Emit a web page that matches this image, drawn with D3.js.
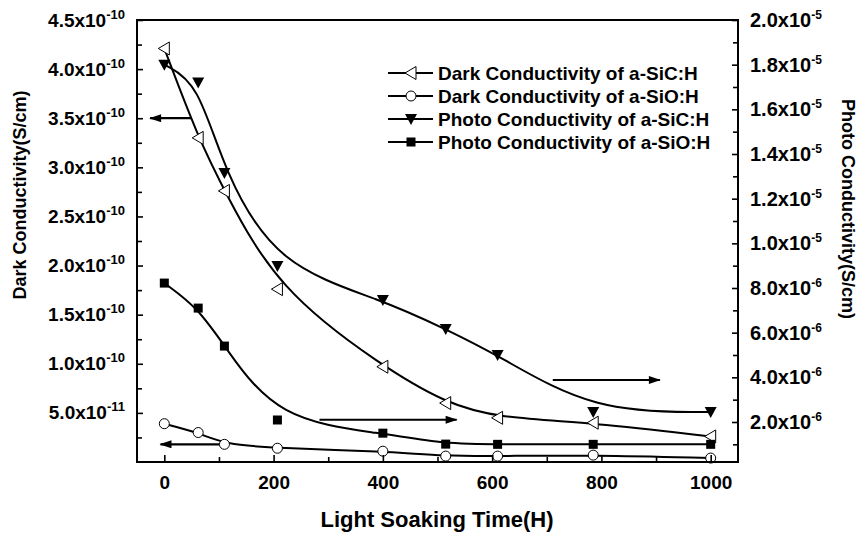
<!DOCTYPE html>
<html>
<head>
<meta charset="utf-8">
<script src="https://cdn.jsdelivr.net/npm/d3@7"></script>
<style>
  body { margin: 0; background: #fff; }
  svg { font-family: "Liberation Sans", Arial, sans-serif; font-weight: bold; }
</style>
</head>
<body>
<div id="viz"></div>
<script>
// light soaking time (H)
const times = [0, 62, 110, 207, 400, 515, 610, 785, 1000];

// left axis series (S/cm)
const darkSiC = [4.21e-10, 3.30e-10, 2.76e-10, 1.76e-10, 0.97e-10, 0.60e-10, 0.45e-10, 0.40e-10, 0.26e-10];
const darkSiO = [0.39e-10, 0.30e-10, 0.18e-10, 0.14e-10, 0.11e-10, 0.06e-10, 0.06e-10, 0.07e-10, 0.04e-10];

// right axis series (S/cm)
const photoSiC = [1.80e-5, 1.72e-5, 1.315e-5, 8.98e-6, 7.46e-6, 6.16e-6, 5.0e-6, 2.45e-6, 2.45e-6];
const photoSiO = [8.22e-6, 7.1e-6, 5.4e-6, 2.09e-6, 1.5e-6, 1.01e-6, 1.0e-6, 1.0e-6, 1.0e-6];

const legendLabels = [
    "Dark Conductivity of a-SiC:H",
    "Dark Conductivity of a-SiO:H",
    "Photo Conductivity of a-SiC:H",
    "Photo Conductivity of a-SiO:H"
];

// tick values
const xTicks = [0, 200, 400, 600, 800, 1000];
const xMinor = [100, 300, 500, 700, 900];
const leftTicks = [5e-11, 1e-10, 1.5e-10, 2e-10, 2.5e-10, 3e-10, 3.5e-10, 4e-10, 4.5e-10];
const leftMinor = [2.5e-11, 7.5e-11, 1.25e-10, 1.75e-10, 2.25e-10, 2.75e-10, 3.25e-10, 3.75e-10, 4.25e-10];
const rightTicks = [2e-6, 4e-6, 6e-6, 8e-6, 1e-5, 1.2e-5, 1.4e-5, 1.6e-5, 1.8e-5, 2e-5];
const rightMinor = [1e-6, 3e-6, 5e-6, 7e-6, 9e-6, 1.1e-5, 1.3e-5, 1.5e-5, 1.7e-5, 1.9e-5];

// arrows: [from time, to time, value, axis]
const arrows = [
    [50, -26, 3.5e-10, "left"],
    [110, -7, 1.8e-11, "left"],
    [284, 535, 2.1e-6, "right"],
    [711, 907, 3.88e-6, "right"]
];

const width = 860, height = 535;
const margin = { left: 137, right: 738, top: 20, bottom: 462 };

const svg = d3.select("#viz").append("svg")
    .attr("width", width)
    .attr("height", height);

const x = d3.scaleLinear().domain([-50, 1050]).range([margin.left, margin.right]);
const yL = d3.scaleLinear().domain([0, 4.5e-10]).range([margin.bottom, margin.top]);
const yR = d3.scaleLinear().domain([2.09e-7, 2e-5]).range([margin.bottom, margin.top]);

// arrowhead
svg.append("defs").append("marker")
    .attr("id", "head")
    .attr("viewBox", "0 0 12 8")
    .attr("refX", 11)
    .attr("refY", 4)
    .attr("markerUnits", "userSpaceOnUse")
    .attr("markerWidth", 13)
    .attr("markerHeight", 8)
    .attr("orient", "auto")
    .append("path")
    .attr("d", "M0,0 L12,4 L0,8 Z")
    .attr("fill", "#000");

// series config
const series = [
    { values: darkSiC, y: yL, shape: "triLeft" },
    { values: darkSiO, y: yL, shape: "circle" },
    { values: photoSiC, y: yR, shape: "triDown" },
    { values: photoSiO, y: yR, shape: "square" }
];

function drawMarker(g, shape, cx, cy) {
    if (shape === "triLeft") {
        g.append("path")
            .attr("d", `M${cx - 6},${cy} L${cx + 5},${cy - 6.5} L${cx + 5},${cy + 6.5} Z`)
            .attr("fill", "#fff").attr("stroke", "#000").attr("stroke-width", 1);
    } else if (shape === "circle") {
        g.append("circle")
            .attr("cx", cx).attr("cy", cy).attr("r", 5)
            .attr("fill", "#fff").attr("stroke", "#000").attr("stroke-width", 1);
    } else if (shape === "triDown") {
        g.append("path")
            .attr("d", `M${cx - 6},${cy - 5} L${cx + 6},${cy - 5} L${cx},${cy + 6} Z`)
            .attr("fill", "#000");
    } else {
        g.append("rect")
            .attr("x", cx - 4.5).attr("y", cy - 4.5)
            .attr("width", 9).attr("height", 9)
            .attr("fill", "#000");
    }
}

// smoothed curves
series.forEach(s => {
    const line = d3.line()
        .x((d, i) => x(times[i]))
        .y(d => s.y(d))
        .curve(d3.curveBasis);
    svg.append("path")
        .datum(s.values)
        .attr("d", line)
        .attr("fill", "none")
        .attr("stroke", "#000")
        .attr("stroke-width", 2);
});

// arrows
arrows.forEach(a => {
    const y = a[3] === "left" ? yL : yR;
    svg.append("line")
        .attr("x1", x(a[0])).attr("x2", x(a[1]))
        .attr("y1", y(a[2])).attr("y2", y(a[2]))
        .attr("stroke", "#000")
        .attr("stroke-width", 2.2)
        .attr("marker-end", "url(#head)");
});

// markers
series.forEach(s => {
    const g = svg.append("g");
    s.values.forEach((v, i) => drawMarker(g, s.shape, x(times[i]), s.y(v)));
});

// scientific label with superscript exponent
function sciLabel(sel, size, expSize) {
    sel.each(function (d) {
        const exp = Math.floor(Math.log10(d) + 1e-9);
        const mant = (d / Math.pow(10, exp)).toFixed(1);
        const t = d3.select(this).text(null).style("font-size", size + "px");
        t.append("tspan").text(mant + "x10");
        t.append("tspan").attr("dy", -8).style("font-size", expSize + "px").text(exp);
    });
}

// axes
const axisStyle = g => {
    g.select(".domain").remove();
    g.attr("font-family", null).attr("font-size", null);
    g.selectAll(".tick line").attr("stroke", "#000").attr("stroke-width", 1.6);
    g.selectAll(".tick text").attr("fill", "#000");
};

svg.append("g")
    .attr("transform", `translate(0,${margin.bottom})`)
    .call(d3.axisBottom(x).tickValues(xTicks).tickFormat(d3.format("d"))
        .tickSize(-7).tickSizeOuter(0).tickPadding(14))
    .call(axisStyle)
    .call(g => g.selectAll(".tick text").style("font-size", "19px"));

svg.append("g")
    .attr("transform", `translate(0,${margin.bottom})`)
    .call(d3.axisBottom(x).tickValues(xMinor).tickSize(-5).tickSizeOuter(0).tickFormat(""))
    .call(axisStyle);

svg.append("g")
    .attr("transform", `translate(${margin.left},0)`)
    .call(d3.axisLeft(yL).tickValues(leftTicks).tickSize(-6).tickSizeOuter(0).tickPadding(12))
    .call(axisStyle)
    .call(g => sciLabel(g.selectAll(".tick text"), 19, 13));

svg.append("g")
    .attr("transform", `translate(${margin.left},0)`)
    .call(d3.axisLeft(yL).tickValues(leftMinor).tickSize(-5).tickSizeOuter(0).tickFormat(""))
    .call(axisStyle);

svg.append("g")
    .attr("transform", `translate(${margin.right},0)`)
    .call(d3.axisRight(yR).tickValues(rightTicks).tickSize(-6).tickSizeOuter(0).tickPadding(12))
    .call(axisStyle)
    .call(g => sciLabel(g.selectAll(".tick text"), 20, 12));

svg.append("g")
    .attr("transform", `translate(${margin.right},0)`)
    .call(d3.axisRight(yR).tickValues(rightMinor).tickSize(-5).tickSizeOuter(0).tickFormat(""))
    .call(axisStyle);

// frame
svg.append("rect")
    .attr("x", margin.left).attr("y", margin.top)
    .attr("width", margin.right - margin.left).attr("height", margin.bottom - margin.top)
    .attr("fill", "none")
    .attr("stroke", "#000")
    .attr("stroke-width", 2);

// axis titles
svg.append("text")
    .attr("x", 437)
    .attr("y", 527)
    .attr("text-anchor", "middle")
    .style("font-size", "22px")
    .text("Light Soaking Time(H)");

svg.append("text")
    .attr("transform", "translate(26,195) rotate(-90)")
    .attr("text-anchor", "middle")
    .style("font-size", "18px")
    .text("Dark Conductivity(S/cm)");

svg.append("text")
    .attr("transform", "translate(842,209) rotate(90)")
    .attr("text-anchor", "middle")
    .style("font-size", "18px")
    .text("Photo Conductivity(S/cm)");

// legend
const legend = svg.append("g").attr("transform", "translate(388,73)");
series.forEach((s, i) => {
    const row = legend.append("g").attr("transform", `translate(0,${i * 23})`);
    row.append("line")
        .attr("x1", 0).attr("x2", 45)
        .attr("stroke", "#000").attr("stroke-width", 2);
    drawMarker(row, s.shape, 23, 0);
    row.append("text")
        .attr("x", 50).attr("y", 6.5)
        .style("font-size", "19px")
        .text(legendLabels[i]);
});
</script>
</body>
</html>
